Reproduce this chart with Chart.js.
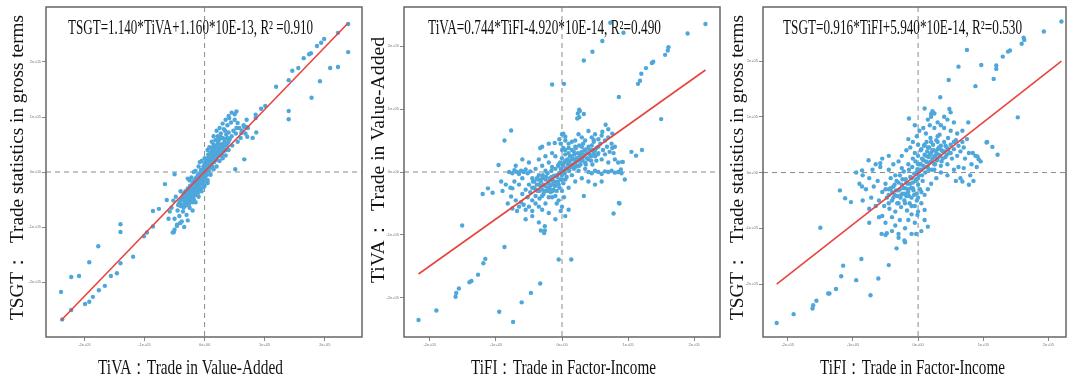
<!DOCTYPE html>
<html>
<head>
<meta charset="utf-8">
<script src="https://cdn.jsdelivr.net/npm/chart.js@4.4.0/dist/chart.umd.min.js"></script>
<style>
body { margin: 0; background: #fff; width: 1070px; height: 378px; overflow: hidden; position: relative; }
canvas { position: absolute; top: 0; }
</style>
</head>
<body>
<canvas id="c1" width="366" height="378" style="left:0"></canvas>
<canvas id="c2" width="362" height="378" style="left:362px"></canvas>
<canvas id="c3" width="348" height="378" style="left:722px"></canvas>
<script>
// all values in units of 1e5
const tickVals = [-2, -1, 0, 1, 2];
const tickLabels = ['-2e+05', '-1e+05', '0e+00', '1e+05', '2e+05'];

const eqTexts = [
  'TSGT=1.140*TiVA+1.160*10E-13, R\u00B2 =0.910',
  'TiVA=0.744*TiFI-4.920*10E-14, R\u00B2=0.490',
  'TSGT=0.916*TiFI+5.940*10E-14, R\u00B2=0.530'
];
const xTitles = ['TiVA\uFF1ATrade in Value-Added', 'TiFI\uFF1ATrade in Factor-Income', 'TiFI\uFF1ATrade in Factor-Income'];
const yTitles = ['TSGT\uFF1A  Trade statistics in gross terms', 'TiVA\uFF1A  Trade in Value-Added', 'TSGT\uFF1A  Trade statistics in gross terms'];

// fitted lines (endpoints)
const fit1 = [[-2.39, -2.70], [2.39, 2.71]];
const fit2 = [[-2.17, -1.62], [2.17, 1.62]];
const fit3 = [[-2.17, -2.00], [2.20, 2.00]];

// panel 1: TiVA (x) vs TSGT (y)
const tivaTsgt = [
  [2.39,2.69],[2.22,2.53],[2.39,2.18],[2.22,1.91],[2.09,1.89],[1.99,2.42],[1.94,2.35],[1.87,2.29],[1.77,2.16],[1.74,2.14],
  [1.65,2.07],[1.56,1.89],[1.46,1.84],[1.40,1.67],[1.92,1.65],[1.78,1.35],[1.19,1.55],[1.40,1.11],[1.40,0.96],[1.01,1.20],
  [0.94,1.15],[0.85,1.04],[0.85,0.98],[0.86,0.72],[0.66,0.23],[0.51,0.05],[0.53,1.10],[0.50,1.05],[0.41,0.98],[0.55,0.89],
  [0.66,0.82],[0.53,0.80],[0.61,0.71],[0.71,0.64],[0.70,0.82],[0.80,0.62],
  [-0.50,-0.04],[-0.66,-0.22],[-0.86,-0.71],[-0.76,-0.67],[-0.63,-0.51],[-0.51,-1.09],[-0.53,-1.10],[-0.46,-0.96],[-0.41,-0.93],[-0.60,-0.85],
  [-2.39,-2.18],[-2.22,-1.91],[-2.09,-1.89],[-1.92,-1.64],[-1.77,-1.35],[-1.99,-2.40],[-1.92,-2.36],[-1.86,-2.27],[-1.76,-2.15],[-1.66,-2.07],
  [-1.56,-1.89],[-1.46,-1.84],[-1.40,-1.66],[-1.40,-1.09],[-1.40,-0.95],[-1.19,-1.54],[-1.01,-1.17],[-0.96,-1.10],[-0.86,-0.99],[-2.22,-2.51],[-2.37,-2.68],
  [-0.45,-0.70],[-0.42,-0.55],[-0.40,-0.62],[-0.38,-0.48],[-0.36,-0.72],[-0.35,-0.40],[-0.33,-0.55],[-0.32,-0.35],[-0.30,-0.60],[-0.30,-0.45],
  [-0.28,-0.30],[-0.27,-0.50],[-0.26,-0.40],[-0.25,-0.65],[-0.24,-0.25],[-0.23,-0.35],[-0.22,-0.45],[-0.21,-0.30],[-0.20,-0.55],[-0.20,-0.20],
  [-0.19,-0.38],[-0.18,-0.28],[-0.17,-0.15],[-0.16,-0.42],[-0.15,-0.32],[-0.15,-0.22],[-0.14,-0.10],[-0.13,-0.25],[-0.12,-0.35],[-0.12,-0.15],
  [-0.11,-0.05],[-0.10,-0.20],[-0.10,-0.28],[-0.09,-0.12],[-0.08,-0.02],[-0.08,-0.18],[-0.07,-0.30],[-0.06,-0.08],[-0.06,0.04],[-0.05,-0.15],
  [-0.04,-0.22],[-0.04,0.02],[-0.03,-0.06],[-0.02,0.10],[-0.02,-0.12],[-0.01,0.05],[0.00,-0.02],[0.00,0.15],[0.01,-0.10],[0.02,0.08],
  [0.02,0.20],[0.03,0.02],[0.04,0.12],[0.04,-0.05],[0.05,0.25],[0.06,0.10],[0.06,0.18],[0.07,0.02],[0.08,0.30],[0.08,0.15],
  [0.09,0.22],[0.10,0.08],[0.10,0.35],[0.11,0.18],[0.12,0.28],[0.12,0.42],[0.13,0.10],[0.14,0.25],[0.15,0.35],[0.15,0.50],
  [0.16,0.18],[0.17,0.40],[0.18,0.30],[0.18,0.58],[0.19,0.45],[0.20,0.22],[0.21,0.36],[0.22,0.52],[0.22,0.65],[0.23,0.30],
  [0.24,0.45],[0.25,0.60],[0.26,0.38],[0.27,0.70],[0.28,0.50],[0.29,0.32],[0.30,0.62],[0.31,0.45],[0.32,0.78],[0.33,0.55],
  [0.35,0.40],[0.36,0.68],[0.38,0.85],[0.38,0.52],[0.40,0.72],[0.42,0.60],[0.44,0.90],[0.46,0.48],[0.48,0.75],[0.50,0.95],
  [-0.50,-0.85],[-0.48,-0.45],[-0.46,-0.98],[-0.44,-0.60],[-0.42,-0.80],[-0.40,-0.35],[-0.38,-0.90],[-0.35,-0.65],[-0.55,-0.65],[-0.52,-0.52],
  [-0.58,-0.72],[-0.50,-1.05],[-0.34,-1.00],[-0.30,-0.78],[-0.28,-0.88],[-0.25,-0.15],[-0.22,-0.10],[-0.18,0.00],[-0.15,0.02],[0.00,0.25],
  [0.05,-0.15],[0.10,-0.05],[0.15,0.05],[0.20,0.10],[0.25,0.20],[0.30,0.25],[0.35,0.30],[0.40,0.40],[0.45,0.65],[0.52,0.70],
  [0.55,0.55],[0.58,0.80],[0.60,0.62],[0.62,0.75],[0.65,0.85],[0.68,0.70],[0.70,0.95],[0.72,0.80],[0.40,1.02],[0.45,1.08],
  [0.35,0.95],[0.30,0.88],[0.25,0.80],[0.20,0.75],[0.15,0.65],[0.05,0.40],[-0.05,0.20],[-0.10,0.10],[0.08,0.45],[0.12,0.55],
  [-0.20,-0.70],[-0.15,-0.55],[-0.10,-0.45],[-0.05,-0.35],[0.00,-0.25],[0.05,-0.20],[-0.28,-0.12],[-0.08,0.18],
  [-0.40,-0.52],[-0.38,-0.60],[-0.36,-0.50],[-0.34,-0.45],[-0.33,-0.62],[-0.31,-0.50],[-0.29,-0.40],[-0.28,-0.55],[-0.27,-0.35],[-0.26,-0.48],
  [-0.25,-0.30],[-0.24,-0.42],[-0.23,-0.52],[-0.22,-0.25],[-0.21,-0.40],[-0.20,-0.32],[-0.19,-0.48],[-0.18,-0.20],[-0.17,-0.35],[-0.16,-0.28],
  [-0.15,-0.42],[-0.14,-0.18],[-0.13,-0.32],[-0.12,-0.22],[-0.11,-0.38],[-0.10,-0.12],[-0.09,-0.25],[-0.08,-0.08],[-0.07,-0.20],[-0.06,-0.15],
  [-0.05,-0.05],[-0.04,-0.12],[-0.03,0.02],[-0.02,-0.05],[-0.01,-0.18],[0.00,0.08],[0.01,0.02],[0.02,0.14],[0.03,0.06],[0.04,0.22],
  [0.05,0.10],[0.06,0.02],[0.07,0.16],[0.08,0.24],[0.09,0.08],[0.10,0.20],[0.11,0.30],[0.12,0.12],[0.13,0.22],[0.14,0.38],
  [0.15,0.20],[0.16,0.30],[0.17,0.48],[0.18,0.22],[0.19,0.35],[0.20,0.42],[0.21,0.28],[0.22,0.40],[0.23,0.55],[0.24,0.35],
  [0.25,0.48],[0.26,0.30],[0.27,0.42],[0.28,0.62],[0.30,0.50],[0.32,0.38],[0.34,0.60],[0.36,0.48],[0.38,0.62],[0.40,0.55],
  [-0.32,-0.42],[-0.26,-0.58],[-0.18,-0.50],[-0.10,-0.32],[-0.02,-0.28],[0.06,0.32],[0.14,0.45],[0.20,0.58],[0.26,0.65],[0.34,0.75]
];

// panel 2: TiFI (x) vs TiVA (y)
const tifiTiva = [
  [2.17,2.35],[1.90,2.20],[1.61,1.98],[1.60,1.93],[1.56,1.86],[1.38,1.75],[1.36,1.73],[1.27,1.65],[1.20,1.56],[1.18,1.45],
  [1.15,1.40],[0.86,1.19],[1.50,0.84],[0.61,2.08],[0.46,1.91],[0.33,1.77],[0.73,2.37],[0.93,2.21],[0.03,1.40],[-0.15,1.39],
  [0.26,0.99],[0.24,0.93],[0.26,0.87],[-0.77,0.66],[-0.87,0.50],[-1.51,-0.85],[-0.87,-1.19],[-1.16,-1.38],[-1.19,-1.45],[-1.27,-1.63],
  [-1.37,-1.73],[-1.40,-1.75],[-1.56,-1.85],[-1.60,-1.92],[-1.61,-1.98],[-1.90,-2.20],[-2.17,-2.35],[-0.95,-2.22],[-0.74,-2.38],[-0.61,-2.07],
  [-0.47,-1.92],[-0.33,-1.77],[-0.32,-0.93],[-0.26,-0.86],[-0.26,-0.93],[-0.27,-0.97],[-0.05,-1.39],[0.14,-1.39],[0.78,-0.66],[0.86,-0.49],
  [0.91,0.16],[1.05,0.32],[1.12,0.26],[1.21,0.35],[0.80,0.40],[0.76,0.38],[-1.20,-0.35],[-1.12,-0.26],[-1.05,-0.33],[-0.96,0.11],
  [-0.92,-0.15],[-0.75,-0.26],[0.33,-0.38],[0.48,0.51],[0.61,0.64],[0.66,0.75],[0.27,0.97],[0.33,0.92],[0.23,0.85],[-0.33,0.38],
  [0.92,0.16],[0.95,-0.12],[0.89,0.04],[-0.77,-0.39],[0.87,-0.50],[0.02,0.61],[0.05,0.56],[-0.11,0.46],[0.70,0.68],[0.76,0.61],
  [-0.60,-0.35],[-0.55,-0.28],[-0.52,-0.40],[-0.50,-0.20],[-0.48,-0.32],[-0.45,-0.45],[-0.44,-0.15],[-0.42,-0.25],[-0.40,-0.38],[-0.38,-0.10],
  [-0.37,-0.30],[-0.35,-0.20],[-0.34,-0.42],[-0.32,-0.15],[-0.30,-0.28],[-0.29,-0.05],[-0.28,-0.35],[-0.26,-0.22],[-0.25,-0.12],[-0.24,-0.30],
  [-0.22,-0.02],[-0.21,-0.18],[-0.20,-0.40],[-0.19,-0.26],[-0.18,-0.10],[-0.17,-0.32],[-0.16,0.02],[-0.15,-0.20],[-0.14,-0.14],[-0.13,-0.28],
  [-0.12,-0.06],[-0.11,-0.22],[-0.10,0.05],[-0.09,-0.16],[-0.08,-0.30],[-0.07,-0.08],[-0.06,0.10],[-0.05,-0.20],[-0.04,-0.02],[-0.03,0.15],
  [-0.02,-0.12],[-0.01,0.04],[0.00,-0.05],[0.00,0.22],[0.01,0.10],[0.02,-0.18],[0.03,0.02],[0.04,0.16],[0.05,0.28],[0.06,0.06],
  [0.07,-0.08],[0.08,0.20],[0.09,0.12],[0.10,0.30],[0.11,0.02],[0.12,0.18],[0.13,0.08],[0.14,0.25],[0.15,0.35],[0.16,0.12],
  [0.17,0.20],[0.18,0.05],[0.19,0.28],[0.20,0.15],[0.21,0.38],[0.22,0.22],[0.23,0.10],[0.24,0.30],[0.25,0.18],[0.26,0.42],
  [0.27,0.25],[0.28,0.12],[0.30,0.32],[0.31,0.20],[0.32,0.45],[0.34,0.28],[0.35,0.15],[0.36,0.36],[0.38,0.22],[0.40,0.40],
  [0.42,0.28],[0.44,0.18],[0.46,0.35],[0.48,0.48],[0.50,0.25],[0.52,0.38],[0.55,0.30],[0.58,0.45],[0.60,0.20],[0.62,0.35],
  [0.65,0.28],[0.68,0.40],[0.70,0.15],[0.72,0.32],
  [-0.80,0.00],[-0.75,-0.02],[-0.72,0.03],[-0.68,0.00],[-0.65,-0.03],[-0.62,0.02],[-0.58,0.00],[-0.55,0.04],[-0.52,-0.02],[-0.48,0.01],
  [0.40,0.00],[0.45,-0.02],[0.50,0.02],[0.55,0.00],[0.60,-0.03],[0.65,0.01],[0.70,0.00],[0.75,0.02],[0.80,-0.01],[0.85,0.00],[0.90,-0.02],
  [-0.02,0.45],[0.00,0.60],[0.02,0.38],[-0.04,0.52],[0.05,0.50],[-0.05,-0.45],[0.00,-0.55],[-0.02,-0.62],[0.03,-0.40],[-0.08,-0.50],
  [-0.70,-0.45],[-0.65,-0.55],[-0.62,-0.48],[-0.75,-0.58],[-0.68,-0.62],[-0.58,-0.52],[-0.55,-0.60],[-0.50,-0.55],[-0.45,-0.62],[-0.40,-0.50],
  [-0.35,-0.55],[-0.30,-0.60],[-0.25,-0.50],[-0.82,-0.50],[-0.90,-0.30],[-0.85,-0.20],[-0.78,-0.25],[-0.72,-0.15],[-0.65,-0.20],[-0.60,-0.10],
  [0.30,0.55],[0.35,0.50],[0.45,0.55],[0.50,0.60],[0.55,0.52],[0.60,0.58],[0.25,0.60],[0.20,0.50],[0.15,0.48],[0.10,0.45],
  [0.40,0.65],[0.65,0.50],[0.70,0.55],[0.75,0.45],[0.78,0.30],[0.80,0.20],[0.85,0.15],[0.60,-0.15],[0.50,-0.20],[0.40,-0.15],
  [0.30,-0.10],[0.20,-0.15],[0.10,-0.25],[-0.10,0.25],[-0.20,0.15],[-0.30,0.10],[-0.40,0.05],[-0.15,0.30],[-0.25,0.25],[-0.35,0.20],
  [-0.50,0.15],[-0.60,0.20],[-0.70,0.10],[-0.45,-0.70],[-0.55,-0.75],[-0.35,-0.80],[-0.20,-0.65],[-0.10,-0.75],[0.05,-0.70],[0.10,-0.60],
  [-0.30,0.40],[-0.20,0.45],[0.00,0.35],
  [-0.45,-0.25],[-0.42,-0.15],[-0.40,-0.28],[-0.38,-0.20],[-0.36,-0.12],[-0.34,-0.30],[-0.32,-0.22],[-0.30,-0.10],[-0.28,-0.20],[-0.26,-0.30],
  [-0.24,-0.08],[-0.22,-0.25],[-0.20,-0.15],[-0.18,-0.22],[-0.16,-0.08],[-0.14,-0.30],[-0.12,-0.15],[-0.10,-0.22],[-0.08,-0.05],[-0.06,-0.15],
  [-0.04,-0.25],[-0.02,0.05],[0.00,-0.12],[0.02,0.12],[0.04,-0.02],[0.06,0.18],[0.08,0.05],[0.10,0.15],[0.12,0.25],[0.14,0.10],
  [0.16,0.22],[0.18,0.32],[0.20,0.08],[0.22,0.18],[0.24,0.22],[0.26,0.10],[0.28,0.30],[0.30,0.18],[0.32,0.25],[0.34,0.35],
  [0.36,0.12],[0.38,0.30],[0.40,0.20],[0.42,0.35],[0.44,0.25],[0.46,0.12],[0.48,0.30],[0.50,0.35],[0.52,0.18],[0.54,0.28],
  [-0.35,-0.05],[-0.25,0.02],[-0.15,0.08],[-0.05,0.12],[0.05,-0.12],[0.15,-0.05],[0.25,0.02],[0.35,0.05],[-0.30,-0.38],[-0.20,-0.30],
  [-0.10,-0.38],[0.00,-0.30],[0.10,0.38],[0.20,0.40],[0.30,0.40],[0.05,0.35],[-0.15,-0.40],[-0.45,-0.10],[0.55,0.40],[0.45,0.42]
];

// panel 3: TiFI (x) vs TSGT (y)
const tifiTsgt = [
  [2.20,2.71],[1.93,2.53],[1.59,2.31],[1.63,2.38],[1.62,2.42],[1.41,2.19],[1.38,2.17],[1.30,2.08],[1.20,1.92],[1.20,1.86],
  [1.16,1.68],[0.97,1.93],[0.75,2.20],[0.62,1.90],[0.47,1.66],[0.88,1.55],[1.53,0.99],[0.34,1.35],[1.05,0.54],[1.14,0.46],
  [1.22,0.32],[0.91,0.29],[0.93,0.24],[0.84,0.35],[-1.50,-0.99],[-1.20,-0.32],[-1.12,-0.46],[-1.03,-0.53],[-0.86,0.04],[-0.87,-1.55],
  [-1.15,-1.67],[-1.18,-1.86],[-1.26,-2.09],[-1.36,-2.17],[-1.38,-2.17],[-1.56,-2.30],[-1.61,-2.38],[-1.62,-2.44],[-1.91,-2.54],[-2.17,-2.70],
  [-0.73,-2.20],[-0.95,-1.93],[-0.61,-1.90],[-0.45,-1.66],[-0.33,-1.36],[-0.30,-1.17],[-0.21,-1.22],[-0.03,-1.10],[0.15,-0.97],[-0.48,-1.09],
  [-0.14,0.97],[0.10,1.15],[0.20,1.05],[0.22,1.10],[0.48,1.14],[0.50,1.08],[0.25,1.06],[0.77,0.90],[1.06,0.55],[-0.76,0.22],
  [-0.58,0.17],[-0.75,-0.90],[-0.56,-1.10],[-0.50,-1.12],[0.10,-0.67],[-0.01,-0.76],[0.96,0.20],[0.78,-0.22],[0.68,-0.16],[-0.86,-0.25],
  [-0.60,-0.50],[-0.55,-0.35],[-0.52,-0.60],[-0.50,-0.20],[-0.48,-0.45],[-0.45,-0.30],[-0.44,-0.65],[-0.42,-0.10],[-0.40,-0.50],[-0.38,-0.25],
  [-0.36,-0.40],[-0.35,-0.70],[-0.33,-0.15],[-0.32,-0.55],[-0.30,-0.32],[-0.28,-0.05],[-0.27,-0.45],[-0.26,-0.62],[-0.25,-0.22],[-0.24,-0.38],
  [-0.22,0.02],[-0.21,-0.50],[-0.20,-0.28],[-0.19,-0.12],[-0.18,-0.42],[-0.17,-0.68],[-0.16,-0.20],[-0.15,-0.35],[-0.14,0.05],[-0.13,-0.55],
  [-0.12,-0.08],[-0.11,-0.28],[-0.10,-0.45],[-0.09,0.10],[-0.08,-0.18],[-0.07,-0.32],[-0.06,-0.02],[-0.05,-0.60],[-0.04,0.20],[-0.03,-0.12],
  [-0.02,-0.38],[-0.01,0.06],[0.00,-0.22],[0.00,0.30],[0.01,-0.05],[0.02,0.15],[0.03,-0.30],[0.04,0.40],[0.05,0.05],[0.06,0.25],
  [0.07,-0.15],[0.08,0.12],[0.09,0.48],[0.10,0.32],[0.11,0.00],[0.12,0.20],[0.13,0.55],[0.14,0.38],[0.15,0.10],[0.16,0.28],
  [0.17,0.45],[0.18,0.18],[0.19,0.62],[0.20,0.35],[0.21,0.05],[0.22,0.25],[0.23,0.50],[0.24,0.40],[0.25,0.15],[0.26,0.30],
  [0.28,0.58],[0.29,0.22],[0.30,0.42],[0.32,0.32],[0.33,0.68],[0.35,0.48],[0.36,0.20],[0.38,0.38],[0.40,0.55],[0.42,0.28],
  [0.44,0.45],[0.46,0.62],[0.48,0.35],[0.50,0.50],[0.52,0.25],[0.55,0.42],[0.58,0.58],[0.60,0.30],[0.62,0.48],[0.65,0.38],
  [0.68,0.55],[0.70,0.45],
  [-0.80,-0.30],[-0.75,-0.10],[-0.72,-0.45],[-0.70,0.05],[-0.68,-0.25],[-0.65,-0.60],[-0.62,-0.15],[-0.58,0.10],[-0.55,-0.78],[-0.50,-0.90],
  [-0.45,0.05],[-0.40,-0.80],[-0.38,0.15],[-0.35,-0.95],[-0.30,0.20],[-0.28,-0.85],[-0.25,0.30],[-0.20,-1.00],[-0.18,0.40],[-0.15,-0.85],
  [-0.12,0.45],[-0.10,-0.75],[-0.08,0.55],[-0.05,-0.90],[-0.02,0.65],[0.00,-0.70],[0.02,0.75],[0.05,-0.55],[0.08,0.80],[0.10,-0.40],
  [0.12,0.70],[0.15,-0.30],[0.18,0.85],[0.20,-0.20],[0.25,0.80],[0.28,-0.10],[0.30,0.90],[0.35,0.00],[0.40,0.80],[0.45,-0.05],
  [0.50,0.75],[0.55,0.05],[0.60,0.70],[0.62,0.10],[0.65,-0.10],[0.70,0.08],[0.72,0.25],[0.75,0.60],[0.78,0.35],[0.80,-0.05],
  [0.82,0.15],[0.85,-0.15],[0.88,0.30],[0.90,0.10],[-0.85,-0.05],[-0.90,-0.20],[-0.95,0.00],[-0.65,0.15],[-0.55,0.25],[-0.45,0.30],
  [-0.85,-0.50],[-0.75,-0.65],[-0.60,-0.80],[-0.40,-1.05],[-0.30,-1.10],[-0.20,-1.25],[0.05,-1.05],[0.10,-0.85],[-0.10,-1.10],[0.30,0.65],
  [0.35,0.85],[0.40,1.00],[0.20,1.00],[0.15,0.95],[0.55,0.90],[0.45,0.95],[-0.05,0.85],[0.00,0.50],[-0.15,0.60],[0.68,0.75],[0.58,-0.15],
  [-0.45,-0.40],[-0.42,-0.28],[-0.40,-0.35],[-0.38,-0.45],[-0.36,-0.22],[-0.34,-0.32],[-0.32,-0.42],[-0.30,-0.18],[-0.28,-0.30],[-0.26,-0.40],
  [-0.24,-0.12],[-0.22,-0.28],[-0.20,-0.38],[-0.18,-0.18],[-0.16,-0.30],[-0.14,-0.42],[-0.12,-0.20],[-0.10,-0.10],[-0.08,-0.28],[-0.06,-0.40],
  [-0.04,-0.15],[-0.02,0.00],[0.00,-0.10],[0.02,0.05],[0.04,0.15],[0.06,-0.05],[0.08,0.22],[0.10,0.10],[0.12,0.30],[0.14,0.18],
  [0.16,0.05],[0.18,0.32],[0.20,0.20],[0.22,0.40],[0.24,0.28],[0.26,0.15],[0.28,0.35],[0.30,0.25],[0.32,0.45],[0.34,0.30],
  [0.36,0.40],[0.38,0.25],[0.40,0.38],[0.42,0.48],[0.44,0.32],[0.46,0.42],[-0.30,-0.55],[-0.20,-0.55],[-0.10,-0.60],[0.00,-0.45],
  [0.05,-0.35],[0.10,0.50],[0.20,0.55],[0.30,0.55],[-0.35,-0.05],[-0.25,0.08],[-0.15,0.15],[-0.05,0.35],[0.05,0.42],[0.15,0.45],
  [0.25,0.05],[0.35,0.12],[0.45,0.15],[-0.50,-0.30],[-0.45,-0.55],[0.50,0.35],[0.55,0.55],[-0.02,-0.50],[-0.08,0.25],[0.00,0.15]
];

function fitText(ctx, s, x, y, w, size, rot) {
  ctx.save();
  ctx.font = size + 'px "Liberation Serif"';
  const k = w / ctx.measureText(s).width;
  ctx.translate(x, y);
  ctx.rotate(rot);
  ctx.scale(k, 1);
  ctx.textAlign = 'left';
  ctx.textBaseline = 'alphabetic';
  ctx.fillText(s, 0, 0);
  ctx.restore();
}

const frame = {
  id: 'frame',
  beforeDatasetsDraw(chart) {
    const {ctx, chartArea: a, scales: {x, y}} = chart;
    const px = x.getPixelForValue(0), py = y.getPixelForValue(0);
    ctx.save();
    ctx.strokeStyle = '#8a8a8a';
    ctx.lineWidth = 1;
    ctx.setLineDash([5, 4]);
    ctx.beginPath();
    ctx.moveTo(px, a.top); ctx.lineTo(px, a.bottom);
    ctx.moveTo(a.left, py); ctx.lineTo(a.right, py);
    ctx.stroke();
    ctx.restore();
  },
  afterDraw(chart, args, o) {
    const {ctx, chartArea: a} = chart;
    ctx.save();
    ctx.strokeStyle = '#666';
    ctx.lineWidth = 1.5;
    ctx.strokeRect(a.left, a.top, a.right - a.left, a.bottom - a.top);
    ctx.fillStyle = '#111';
    fitText(ctx, o.eq, a.left + o.eqX, 34, o.eqW, 20, 0);
    fitText(ctx, o.xt, o.xtX, 374, 185, 21, 0);
    fitText(ctx, o.yt, o.ytX, o.ytY, o.ytW, 19, -Math.PI / 2);
    ctx.restore();
  }
};

function panel(id, pts, fit, lim, pad, yw, txt) {
  const axis = (min, max) => ({
    type: 'linear', min: min, max: max,
    afterBuildTicks: s => { s.ticks = tickVals.map(v => ({value: v})); },
    ticks: {
      autoSkip: false, maxRotation: 0, padding: 1, color: '#777',
      font: {size: 4, family: 'Liberation Sans'},
      callback: (v, i) => tickLabels[i]
    },
    grid: {drawOnChartArea: false, drawTicks: true, tickLength: 4, color: '#888'},
    border: {display: false}
  });
  const xs = axis(lim[0], lim[1]);
  xs.afterFit = s => { s.height = 41; };
  const ys = axis(lim[2], lim[3]);
  ys.afterFit = s => { s.width = yw; };
  return new Chart(document.getElementById(id), {
    type: 'scatter',
    data: {
      datasets: [
        {type: 'line', data: fit, borderColor: '#e8433d', borderWidth: 1.6, pointRadius: 0, fill: false},
        {data: pts, pointRadius: 2.2, pointBackgroundColor: '#4ea7db', pointBorderWidth: 0, borderWidth: 0}
      ]
    },
    options: {
      responsive: false,
      animation: false,
      layout: {padding: {top: 7, right: pad, left: 0, bottom: 0}},
      scales: {x: xs, y: ys},
      plugins: {legend: {display: false}, tooltip: {enabled: false}, frame: txt}
    },
    plugins: [frame]
  });
}

panel('c1', tivaTsgt, fit1, [-2.64, 2.62, -3.0, 3.0], 3, 46,
  {eq: eqTexts[0], eqX: 22, eqW: 245, xt: xTitles[0], xtX: 98, yt: yTitles[0], ytX: 23, ytY: 320, ytW: 305});
panel('c2', tifiTiva, fit2, [-2.39, 2.39, -2.62, 2.62], 2, 42,
  {eq: eqTexts[1], eqX: 24, eqW: 233, xt: xTitles[1], xtX: 109, yt: yTitles[1], ytX: 22, ytY: 283, ytW: 246});
panel('c3', tifiTsgt, fit3, [-2.38, 2.27, -2.95, 2.97], 0, 41,
  {eq: eqTexts[2], eqX: 20, eqW: 239, xt: xTitles[2], xtX: 98, yt: yTitles[2], ytX: 21, ytY: 320, ytW: 305});
</script>
</body>
</html>
